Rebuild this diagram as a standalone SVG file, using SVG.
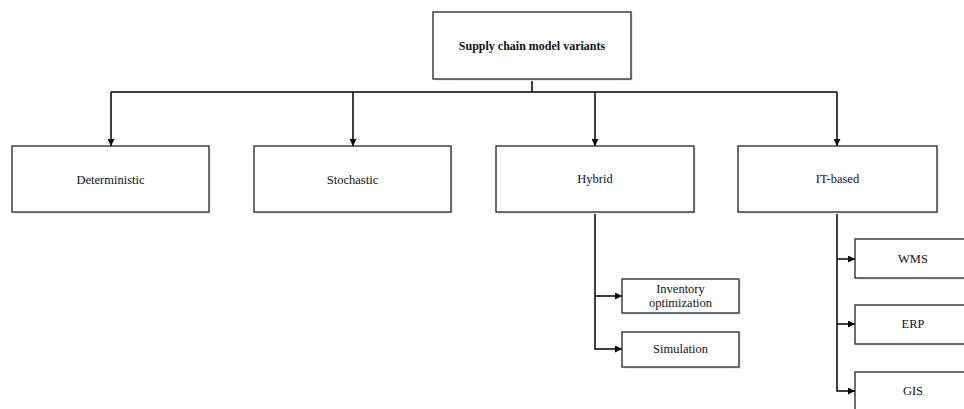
<svg xmlns="http://www.w3.org/2000/svg" width="964" height="409" viewBox="0 0 964 409">
<defs>
<style>
.box{fill:#fff;stroke:#222;stroke-width:1.3}
.sh{fill:#e3ecf7}
.t{font-family:"Liberation Serif","Times New Roman",serif;font-size:12.5px;fill:#111;text-anchor:middle;dominant-baseline:central}
.b{font-weight:bold;font-size:12px}
.c{fill:none;stroke:#000;stroke-width:1.5}
</style>
<marker id="ah" viewBox="0 0 10 10" refX="10" refY="5" markerWidth="7" markerHeight="7" markerUnits="userSpaceOnUse" orient="auto">
<path d="M0,0 L10,5 L0,10 z" fill="#000"/>
</marker>
</defs>
<g id="connectors">
<path class="c" d="M532,79 V92"/>
<path class="c" d="M111,92 H837"/>
<path class="c" d="M111,92 V146" marker-end="url(#ah)"/>
<path class="c" d="M353,92 V146" marker-end="url(#ah)"/>
<path class="c" d="M595,92 V146" marker-end="url(#ah)"/>
<path class="c" d="M837,92 V146" marker-end="url(#ah)"/>
<path class="c" d="M595,212 V349 H622" marker-end="url(#ah)"/>
<path class="c" d="M595,296 H622" marker-end="url(#ah)"/>
<path class="c" d="M837,212 V391 H855" marker-end="url(#ah)"/>
<path class="c" d="M837,259 H855" marker-end="url(#ah)"/>
<path class="c" d="M837,324 H855" marker-end="url(#ah)"/>
</g>
<g id="root">
<rect class="sh" x="435" y="14" width="198" height="67"/>
<rect class="box" x="433" y="12" width="198" height="67"/>
<text class="t b" x="532" y="46">Supply chain model variants</text>
</g>
<g id="deterministic">
<rect class="sh" x="14" y="148" width="197" height="66"/>
<rect class="box" x="12" y="146" width="197" height="66"/>
<text class="t" x="110.5" y="180">Deterministic</text>
</g>
<g id="stochastic">
<rect class="sh" x="256" y="148" width="197" height="66"/>
<rect class="box" x="254" y="146" width="197" height="66"/>
<text class="t" x="352.5" y="180">Stochastic</text>
</g>
<g id="hybrid">
<rect class="sh" x="498" y="148" width="198" height="66"/>
<rect class="box" x="496" y="146" width="198" height="66"/>
<text class="t" x="595" y="179">Hybrid</text>
</g>
<g id="it-based">
<rect class="sh" x="740" y="148" width="199" height="66"/>
<rect class="box" x="738" y="146" width="199" height="66"/>
<text class="t" x="837.5" y="179">IT-based</text>
</g>
<g id="inventory">
<rect class="sh" x="624" y="281" width="117" height="34"/>
<rect class="box" x="622" y="279" width="117" height="34"/>
<text class="t" x="680.5" y="289">Inventory</text>
<text class="t" x="680.5" y="303">optimization</text>
</g>
<g id="simulation">
<rect class="sh" x="624" y="334" width="117" height="35"/>
<rect class="box" x="622" y="332" width="117" height="35"/>
<text class="t" x="680.5" y="349">Simulation</text>
</g>
<g id="wms">
<rect class="sh" x="857" y="241" width="117" height="39"/>
<rect class="box" x="855" y="239" width="117" height="39"/>
<text class="t" x="913" y="259">WMS</text>
</g>
<g id="erp">
<rect class="sh" x="857" y="307" width="117" height="39"/>
<rect class="box" x="855" y="305" width="117" height="39"/>
<text class="t" x="913" y="324">ERP</text>
</g>
<g id="gis">
<rect class="sh" x="857" y="374" width="117" height="39"/>
<rect class="box" x="855" y="372" width="117" height="39"/>
<text class="t" x="913" y="391">GIS</text>
</g>
</svg>
